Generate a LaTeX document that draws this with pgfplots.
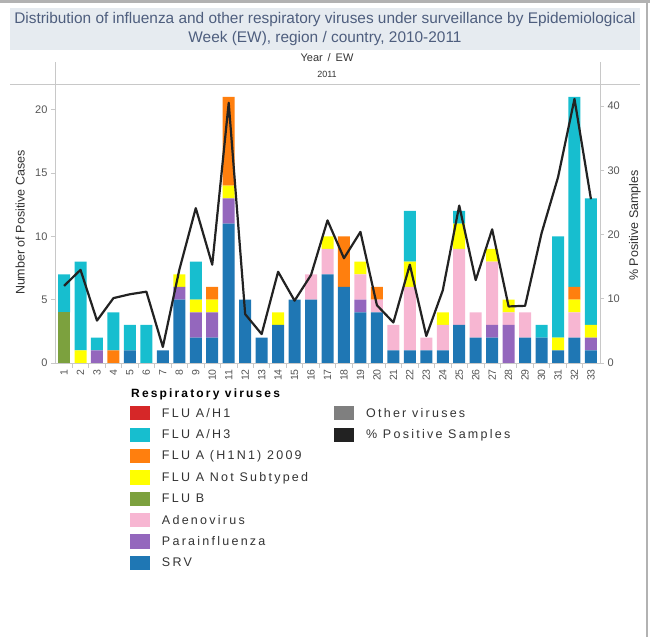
\documentclass[border=0pt]{standalone}
\usepackage{fontspec}
\setmainfont{Liberation Sans}
\newfontfamily\legfont[LetterSpace=18]{Liberation Sans}
\usepackage{pgfplots}
\pgfplotsset{compat=1.18}
\definecolor{srv}{HTML}{1F77B4}
\definecolor{para}{HTML}{9467BD}
\definecolor{adeno}{HTML}{F7B6D2}
\definecolor{flub}{HTML}{7CA13E}
\definecolor{notsub}{HTML}{FFFF00}
\definecolor{hinin}{HTML}{FF7F0E}
\definecolor{hthree}{HTML}{17BECF}
\definecolor{hone}{HTML}{D62728}
\definecolor{othercol}{HTML}{7F7F7F}
\definecolor{poscol}{HTML}{222222}
\definecolor{titlebg}{HTML}{E6EBF0}
\definecolor{titlecol}{HTML}{4E5E7E}
\definecolor{axisgray}{HTML}{C8C8C8}
\definecolor{tickgray}{HTML}{555555}
\definecolor{legtext}{HTML}{333333}
\begin{document}
\begin{tikzpicture}[x=1pt,y=1pt]
\path[use as bounding box] (0,0) rectangle (650,637);
% frame
\draw[gray!60, line width=2.5pt] (0,635.5) -- (650,635.5);
\draw[gray!60, line width=2pt] (647,0) -- (647,637);
% title box
\fill[titlebg] (10,587) rectangle (640,629);
\node[text=titlecol, font=\fontsize{15.4}{18.5}\selectfont, align=center] at (325,608)
  {Distribution of influenza and other respiratory viruses under surveillance by Epidemiological\\Week (EW), region / country, 2010-2011};
% header
\node[text=legtext, font=\fontsize{11}{13}\selectfont] at (327,579) {Year \,/\, EW};
\node[text=legtext, font=\fontsize{9}{11}\selectfont] at (327,563) {2011};
\draw[axisgray, line width=0.8pt] (10,553) -- (640,553);
\draw[axisgray, line width=0.8pt] (55,549) -- (55,575);
\draw[axisgray, line width=0.8pt] (600,549) -- (600,575);

\begin{axis}[
  at={(55pt,274pt)}, anchor=south west,
  scale only axis, width=545pt, height=275pt,
  ybar stacked, bar width=12pt,
  xmin=0.45, xmax=33.55, ymin=0, ymax=21.7,
  axis x line*=bottom, axis y line*=left,
  axis line style={draw=axisgray, line width=0.8pt},
  xtick={1,...,33},
  major x tick style={draw=none},
  minor xtick={1.5,2.5,3.5,4.5,5.5,6.5,7.5,8.5,9.5,10.5,11.5,12.5,13.5,14.5,15.5,16.5,17.5,18.5,19.5,20.5,21.5,22.5,23.5,24.5,25.5,26.5,27.5,28.5,29.5,30.5,31.5,32.5},
  minor x tick style={draw=axisgray, line width=0.8pt},
  minor tick length=5pt,
  major tick length=4pt,
  tick align=outside,
  y tick style={draw=axisgray, line width=0.8pt},
  ytick={0,5,10,15,20},
  /pgf/number format/assume math mode=true,
  x tick label style={rotate=90, anchor=east, font=\fontsize{10.5}{12}\selectfont, text=tickgray, inner sep=2pt},
  y tick label style={font=\fontsize{11}{13}\selectfont, text=tickgray},
  ylabel={Number of Positive Cases},
  ylabel style={at={(axis description cs:-0.064,0.51)}, anchor=center, font=\fontsize{12.5}{14}\selectfont, text=legtext},
]
% SRV
\addplot[fill=srv, draw=none] coordinates {(1,0)(2,0)(3,0)(4,0)(5,1)(6,0)(7,1)(8,5)(9,2)(10,2)(11,11)(12,5)(13,2)(14,3)(15,5)(16,5)(17,7)(18,6)(19,4)(20,4)(21,1)(22,1)(23,1)(24,1)(25,3)(26,2)(27,2)(28,0)(29,2)(30,2)(31,1)(32,2)(33,1)};
% Parainfluenza
\addplot[fill=para, draw=none] coordinates {(1,0)(2,0)(3,1)(4,0)(5,0)(6,0)(7,0)(8,1)(9,2)(10,2)(11,2)(12,0)(13,0)(14,0)(15,0)(16,0)(17,0)(18,0)(19,1)(20,0)(21,0)(22,0)(23,0)(24,0)(25,0)(26,0)(27,1)(28,3)(29,0)(30,0)(31,0)(32,0)(33,1)};
% Adenovirus
\addplot[fill=adeno, draw=none] coordinates {(1,0)(2,0)(3,0)(4,0)(5,0)(6,0)(7,0)(8,0)(9,0)(10,0)(11,0)(12,0)(13,0)(14,0)(15,0)(16,2)(17,2)(18,0)(19,2)(20,1)(21,2)(22,5)(23,1)(24,2)(25,6)(26,2)(27,5)(28,1)(29,2)(30,0)(31,0)(32,2)(33,0)};
% FLU B
\addplot[fill=flub, draw=none] coordinates {(1,4)(2,0)(3,0)(4,0)(5,0)(6,0)(7,0)(8,0)(9,0)(10,0)(11,0)(12,0)(13,0)(14,0)(15,0)(16,0)(17,0)(18,0)(19,0)(20,0)(21,0)(22,0)(23,0)(24,0)(25,0)(26,0)(27,0)(28,0)(29,0)(30,0)(31,0)(32,0)(33,0)};
% FLU A Not Subtyped
\addplot[fill=notsub, draw=none] coordinates {(1,0)(2,1)(3,0)(4,0)(5,0)(6,0)(7,0)(8,1)(9,1)(10,1)(11,1)(12,0)(13,0)(14,1)(15,0)(16,0)(17,1)(18,0)(19,1)(20,0)(21,0)(22,2)(23,0)(24,1)(25,2)(26,0)(27,1)(28,1)(29,0)(30,0)(31,1)(32,1)(33,1)};
% FLU A (H1N1) 2009
\addplot[fill=hinin, draw=none] coordinates {(1,0)(2,0)(3,0)(4,1)(5,0)(6,0)(7,0)(8,0)(9,0)(10,1)(11,7)(12,0)(13,0)(14,0)(15,0)(16,0)(17,0)(18,4)(19,0)(20,1)(21,0)(22,0)(23,0)(24,0)(25,0)(26,0)(27,0)(28,0)(29,0)(30,0)(31,0)(32,1)(33,0)};
% FLU A/H3
\addplot[fill=hthree, draw=none] coordinates {(1,3)(2,7)(3,1)(4,3)(5,2)(6,3)(7,0)(8,0)(9,3)(10,0)(11,0)(12,0)(13,0)(14,0)(15,0)(16,0)(17,0)(18,0)(19,0)(20,0)(21,0)(22,4)(23,0)(24,0)(25,1)(26,0)(27,0)(28,0)(29,0)(30,1)(31,8)(32,15)(33,10)};
\end{axis}

\begin{axis}[
  at={(55pt,274pt)}, anchor=south west,
  scale only axis, width=545pt, height=275pt,
  xmin=0.45, xmax=33.55, ymin=0, ymax=42.8,
  axis x line=none, axis y line*=right,
  axis line style={draw=axisgray, line width=0.8pt},
  ytick={0,10,20,30,40},
  tick align=outside, major tick length=4pt,
  y tick style={draw=axisgray, line width=0.8pt},
  /pgf/number format/assume math mode=true,
  y tick label style={font=\fontsize{11}{13}\selectfont, text=tickgray},
  ylabel={\% Positive Samples},
  ylabel style={at={(axis description cs:1.064,0.50)}, anchor=center, rotate=0, font=\fontsize{12.5}{14}\selectfont, text=legtext},
]
\addplot[color=poscol, line width=2.2pt, line join=round] coordinates {(1,12.0)(2,14.5)(3,6.6)(4,10.1)(5,10.7)(6,11.1)(7,2.5)(8,14.5)(9,24.1)(10,15.3)(11,40.5)(12,7.6)(13,4.5)(14,14.2)(15,9.7)(16,13.7)(17,22.2)(18,16.3)(19,20.4)(20,9.0)(21,6.3)(22,15.3)(23,4.2)(24,11.3)(25,24.5)(26,12.9)(27,20.8)(28,8.8)(29,8.9)(30,20.2)(31,28.9)(32,41.1)(33,25.5)};
\end{axis}

\begin{axis}[
  at={(55pt,274pt)}, anchor=south west,
  scale only axis, width=545pt, height=275pt,
  hide axis, xmin=0, xmax=1, ymin=0, ymax=1,
  legend columns=2,
  legend cell align=left,
  legend style={at={(rel axis cs:0.1376,-0.157)}, anchor=north west, draw=none, fill=none,
    inner sep=0pt, outer sep=0pt, row sep=7.05pt,
    font=\legfont\fontsize{12.5}{14}\selectfont,
    nodes={inner sep=0pt, text=legtext},
    /tikz/every odd column/.style={column sep=12pt},
    /tikz/every even column/.style={column sep=26pt}},
  legend image code/.code={\path[#1, draw=none] (0pt,-7pt) rectangle (20pt,7.3pt);},
]
\addlegendimage{fill=hone}\addlegendentry{FLU A/H1}
\addlegendimage{fill=othercol}\addlegendentry{Other viruses}
\addlegendimage{fill=hthree}\addlegendentry{FLU A/H3}
\addlegendimage{fill=poscol}\addlegendentry{\% Positive Samples}
\addlegendimage{fill=hinin}\addlegendentry{FLU A (H1N1) 2009}
\addlegendimage{empty legend}\addlegendentry{}
\addlegendimage{fill=notsub}\addlegendentry{FLU A Not Subtyped}
\addlegendimage{empty legend}\addlegendentry{}
\addlegendimage{fill=flub}\addlegendentry{FLU B}
\addlegendimage{empty legend}\addlegendentry{}
\addlegendimage{fill=adeno}\addlegendentry{Adenovirus}
\addlegendimage{empty legend}\addlegendentry{}
\addlegendimage{fill=para}\addlegendentry{Parainfluenza}
\addlegendimage{empty legend}\addlegendentry{}
\addlegendimage{fill=srv}\addlegendentry{SRV}
\end{axis}
\node[anchor=west, text=black, font=\legfont\bfseries\fontsize{12}{14}\selectfont, inner sep=0pt] at (131,243) {Respiratory viruses};
\end{tikzpicture}
\end{document}
